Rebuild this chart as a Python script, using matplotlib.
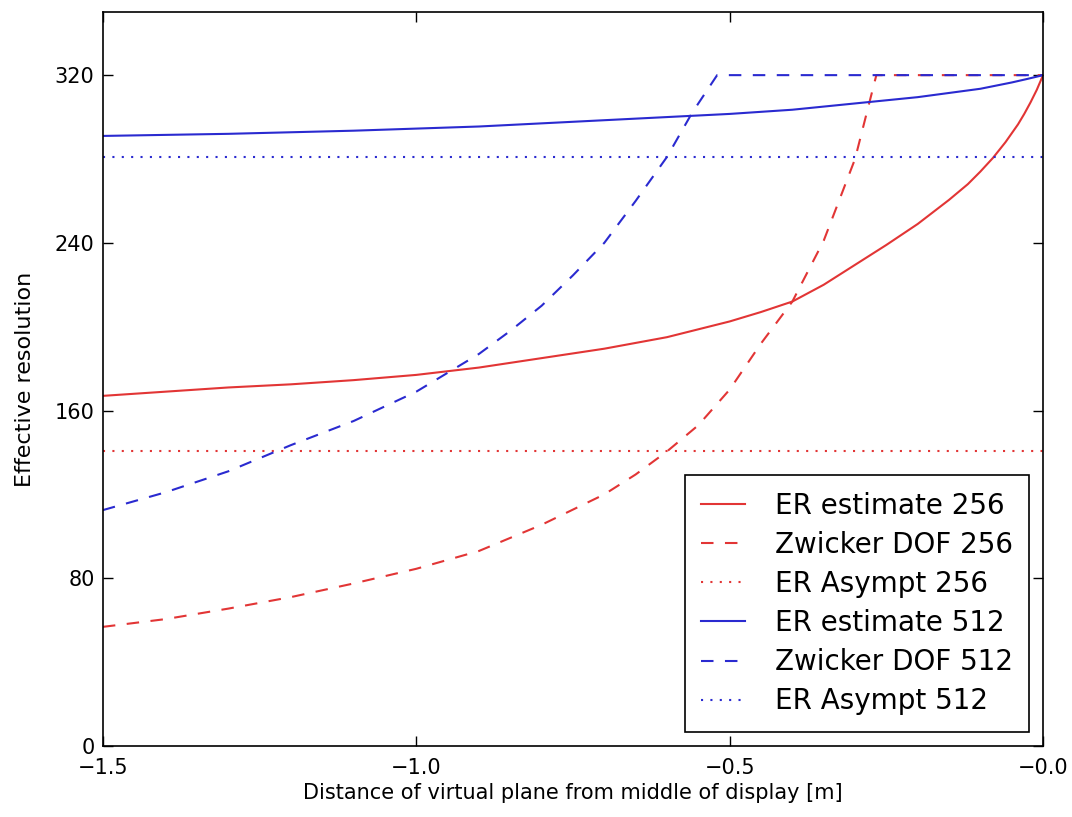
import numpy as np
import matplotlib
matplotlib.use("Agg")
import matplotlib.pyplot as plt

# ER estimate (solid)
x_er256 = [-1.5, -1.4, -1.3, -1.2, -1.1, -1.0, -0.9, -0.8, -0.7, -0.6, -0.5, -0.45,
           -0.4, -0.35, -0.3, -0.25, -0.2, -0.15, -0.12, -0.1, -0.08, -0.06, -0.04,
           -0.03, -0.02, -0.01, 0.0]
y_er256 = [167, 169, 171, 172.5, 174.5, 177, 180.5, 185, 189.5, 195, 202.5, 207,
           212, 220, 229.5, 239, 249, 260.5, 268, 274, 280.5, 288, 296.5,
           301.5, 307, 313, 320]

x_er512 = [-1.5, -1.3, -1.1, -0.9, -0.7, -0.5, -0.4, -0.3, -0.2, -0.15, -0.1, -0.05, -0.025, 0.0]
y_er512 = [291, 292, 293.5, 295.5, 298.5, 301.5, 303.5, 306.5, 309.5, 311.5, 313.5, 316.5, 318.2, 320]

# Zwicker depth of field (dashed)
x_zw256 = [-1.5, -1.4, -1.3, -1.2, -1.1, -1.0, -0.9, -0.8, -0.7, -0.65, -0.6, -0.55, -0.5,
           -0.45, -0.4, -0.35, -0.3, -0.266, 0.0]
y_zw256 = [56.8, 60.5, 65.5, 71, 77.5, 84.5, 93, 105.5, 120, 129.5, 140.5, 153, 170,
           192, 212, 241, 280, 320, 320]

x_zw512 = [-1.5, -1.4, -1.3, -1.2, -1.1, -1.0, -0.9, -0.85, -0.8, -0.75, -0.7, -0.65,
           -0.6, -0.56, -0.52, 0.0]
y_zw512 = [112.5, 121, 131, 143.5, 155, 169, 187, 198, 210, 224.5, 240, 260,
           281, 302, 320, 320]

# asymptotes (dotted)
x_asym = [-1.5, 0.0]
asym256 = 140.5
asym512 = 281

xticks = [-1.5, -1.0, -0.5, 0.0]
xtick_labels = ['\u22121.5', '\u22121.0', '\u22120.5', '\u22120.0']
yticks = [0, 80, 160, 240, 320]

fig = plt.figure(figsize=(10.72, 8.17), dpi=100)
ax = fig.add_axes([0.096, 0.087, 0.877, 0.898])

red = '#e23535'
blue = '#2a2ad0'
dash = (0, (6, 5.5))
dot = (0, (1, 3.5))
lw = 1.5

ax.plot(x_er256, y_er256, color=red, lw=lw, label='ER estimate 256')
ax.plot(x_zw256, y_zw256, color=red, lw=lw, ls=dash, label='Zwicker DOF 256')
ax.plot(x_asym, [asym256, asym256], color=red, lw=lw, ls=dot, label='ER Asympt 256')
ax.plot(x_er512, y_er512, color=blue, lw=lw, label='ER estimate 512')
ax.plot(x_zw512, y_zw512, color=blue, lw=lw, ls=dash, label='Zwicker DOF 512')
ax.plot(x_asym, [asym512, asym512], color=blue, lw=lw, ls=dot, label='ER Asympt 512')

ax.set_xlim(-1.5, 0.0)
ax.set_ylim(0, 350)
ax.set_xticks(xticks)
ax.set_xticklabels(xtick_labels)
ax.set_yticks(yticks)
ax.tick_params(direction='in', length=7, width=1, top=True, right=True,
               labelsize=15, pad=6)
ax.tick_params(axis='x', pad=9)
for s in ax.spines.values():
    s.set_linewidth(1.2)

ax.set_xlabel('Distance of virtual plane from middle of display [m]', fontsize=15, labelpad=3)
ax.set_ylabel('Effective resolution', fontsize=16, labelpad=14)

leg = ax.legend(loc='lower right', fontsize=20, fancybox=False, framealpha=1,
                edgecolor='black', handlelength=1.55, handletextpad=1.08,
                labelspacing=0.4, borderaxespad=0.5, borderpad=0.6)
leg.get_frame().set_linewidth(1.2)

fig.savefig('out.png', dpi=100, facecolor='white')
